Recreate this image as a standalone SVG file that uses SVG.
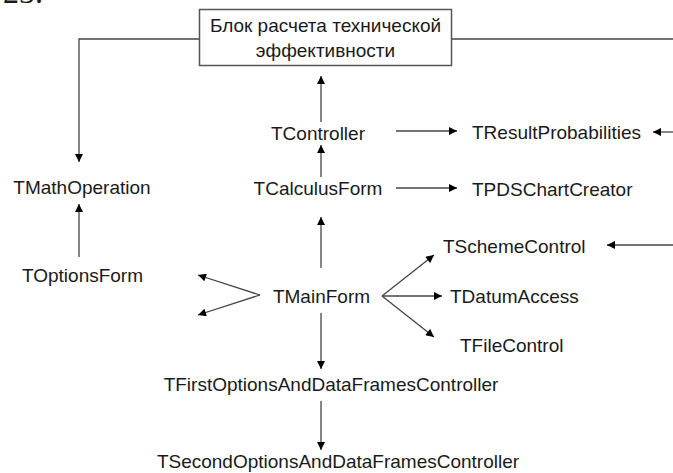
<svg xmlns="http://www.w3.org/2000/svg" width="673" height="473" viewBox="0 0 673 473">
<defs>
<marker id="ah" viewBox="0 0 10 10" markerUnits="userSpaceOnUse" markerWidth="9" markerHeight="8" refX="10" refY="5" orient="auto">
<path d="M0,0 L10,5 L0,10 z" fill="#000"/>
</marker>
<style>
text{font-family:"Liberation Sans",Arial,sans-serif;font-size:19px;fill:#1a1a1a}
.c line,.c polyline{stroke:#444;stroke-width:1.3;fill:none;marker-end:url(#ah)}
.c .plain{marker-end:none}
.box{fill:#fff;stroke:#555;stroke-width:1.5}
</style>
</defs>
<rect width="673" height="473" fill="#fff"/>
<text x="3" y="3" style="font-family:'Liberation Serif',serif;font-size:32px">23.</text>
<g class="c" id="connectors">
<polyline points="199,39 79,39 79,162"/>
<line class="plain" x1="452" y1="39" x2="673" y2="39"/>
<line x1="321" y1="122" x2="321" y2="76"/>
<line x1="321" y1="177" x2="321" y2="145"/>
<line x1="321" y1="268" x2="321" y2="217"/>
<line x1="79" y1="257" x2="79" y2="204"/>
<line x1="396" y1="131" x2="457" y2="131"/>
<line x1="673" y1="132" x2="653" y2="132"/>
<line x1="396" y1="188" x2="457" y2="188"/>
<line x1="673" y1="245" x2="607" y2="245"/>
<line x1="260" y1="295" x2="198" y2="275"/>
<line x1="260" y1="295" x2="198" y2="315"/>
<line x1="382" y1="296" x2="434" y2="255"/>
<line x1="382" y1="296" x2="442" y2="296"/>
<line x1="382" y1="296" x2="434" y2="337"/>
<line x1="321" y1="313" x2="321" y2="369"/>
<line x1="321" y1="401" x2="321" y2="450"/>
</g>
<g id="block">
<rect class="box" x="199.5" y="9.5" width="252" height="56"/>
<text x="325.5" y="32" text-anchor="middle">Блок расчета технической</text>
<text x="325.5" y="57" text-anchor="middle">эффективности</text>
</g>
<g id="tcontroller"><text x="318" y="140" text-anchor="middle">TController</text></g>
<g id="tresultprobabilities"><text x="472" y="139">TResultProbabilities</text></g>
<g id="tmathoperation"><text x="82" y="194" text-anchor="middle">TMathOperation</text></g>
<g id="tcalculusform"><text x="318" y="195" text-anchor="middle">TCalculusForm</text></g>
<g id="tpdschartcreator"><text x="472" y="196">TPDSChartCreator</text></g>
<g id="tschemecontrol"><text x="443" y="253">TSchemeControl</text></g>
<g id="toptionsform"><text x="82.5" y="282" text-anchor="middle">TOptionsForm</text></g>
<g id="tmainform"><text x="321.5" y="303" text-anchor="middle">TMainForm</text></g>
<g id="tdatumaccess"><text x="450" y="303">TDatumAccess</text></g>
<g id="tfilecontrol"><text x="460" y="352">TFileControl</text></g>
<g id="tfirst"><text x="331" y="391" text-anchor="middle">TFirstOptionsAndDataFramesController</text></g>
<g id="tsecond"><text x="338" y="468" text-anchor="middle">TSecondOptionsAndDataFramesController</text></g>
</svg>
